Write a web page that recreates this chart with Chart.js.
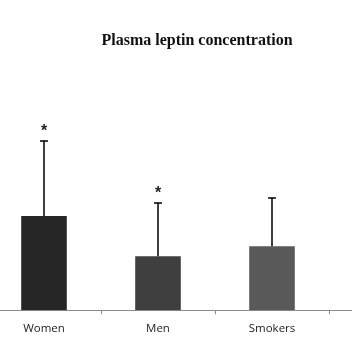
<!DOCTYPE html>
<html>
<head>
<meta charset="utf-8">
<script src="https://cdn.jsdelivr.net/npm/chart.js@4"></script>
<style>
  html, body { margin: 0; padding: 0; background: #fff; overflow: hidden; }
  #wrap { position: absolute; left: -49px; top: 0; width: 492px; height: 352px; }
</style>
</head>
<body>
<div id="wrap"><canvas id="c"></canvas></div>
<script>
// values (no y axis shown, arbitrary units)
const groups = ['Women', 'Men', 'Smokers', ''];
const means = [9.4, 5.4, 6.4, null];
const sds = [7.5, 5.3, 4.8, null];
const marks = ['*', '*', '', ''];
const barColors = ['#262626', '#3f3f3f', '#595959', '#595959'];

// error bars + significance stars
const errorBars = {
    id: 'errorBars',
    afterDatasetsDraw(chart) {
        const ctx = chart.ctx;
        const y = chart.scales.y;
        const meta = chart.getDatasetMeta(0);
        ctx.save();
        meta.data.forEach((bar, i) => {
            if (means[i] == null) return;
            const x = bar.x;
            const yBase = y.getPixelForValue(means[i]);
            const yTop = y.getPixelForValue(means[i] + sds[i]);
            ctx.strokeStyle = '#000';
            ctx.lineWidth = 1.5;
            ctx.beginPath();
            ctx.moveTo(x, yBase);
            ctx.lineTo(x, yTop);
            ctx.moveTo(x - 4, yTop);
            ctx.lineTo(x + 4, yTop);
            ctx.stroke();
            if (marks[i]) {
                ctx.fillStyle = '#222';
                ctx.font = 'bold 16px "Liberation Sans"';
                ctx.textAlign = 'center';
                ctx.textBaseline = 'alphabetic';
                ctx.fillText(marks[i], x, yTop - 5);
            }
        });
        ctx.restore();
    }
};

new Chart(document.getElementById('c'), {
    type: 'bar',
    data: {
        labels: groups,
        datasets: [{
            data: means,
            backgroundColor: barColors,
            barPercentage: 0.4,
            categoryPercentage: 1
        }]
    },
    options: {
        responsive: true,
        maintainAspectRatio: false,
        animation: false,
        layout: { padding: { bottom: 8 } },
        plugins: {
            legend: { display: false },
            tooltip: { enabled: false },
            title: {
                display: true,
                text: 'Plasma leptin concentration',
                color: '#111',
                font: { family: '"Liberation Serif"', size: 16, weight: 'bold' },
                padding: { top: 31, bottom: 59.8 }
            }
        },
        scales: {
            x: {
                border: { color: '#8c8c8c', width: 1 },
                grid: { drawOnChartArea: false, drawTicks: true, tickLength: 4, color: '#8c8c8c', offset: true },
                ticks: { color: '#222', padding: 8, font: { family: '"Open Sans"', size: 11.5 } }
            },
            y: {
                min: 0,
                max: 20,
                border: { display: false },
                grid: { display: false },
                ticks: { display: false },
                afterFit(s) { s.width = 36; }
            }
        }
    },
    plugins: [errorBars]
});
</script>
</body>
</html>
